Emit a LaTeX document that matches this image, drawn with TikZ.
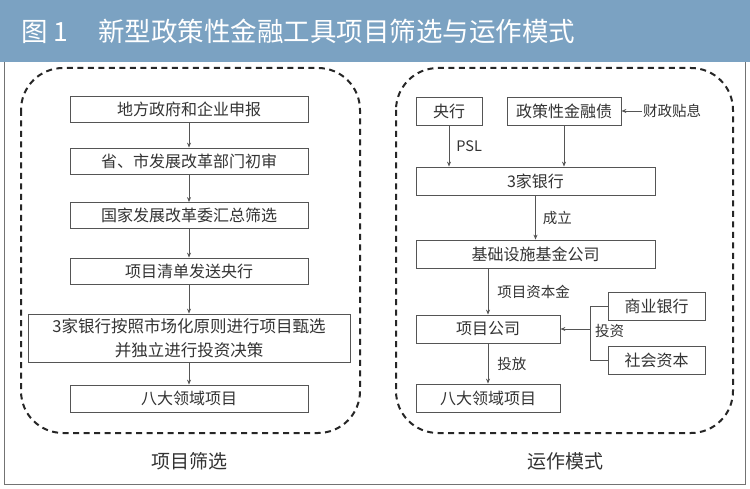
\documentclass[tikz,border=0pt]{standalone}
\usepackage{fontspec}
\setmainfont{Noto Sans CJK SC}
\usetikzlibrary{arrows.meta}
\definecolor{titleblue}{HTML}{7BA2C2}
\definecolor{linegray}{HTML}{555555}
\tikzset{
  bx/.style={draw=linegray, line width=0.8pt, fill=white, inner sep=0pt, font=\fontsize{16}{19}\selectfont, text=black!80},
  arr/.style={draw=linegray, line width=0.8pt, -{Stealth[length=5pt,width=4pt]}},
  lnk/.style={draw=linegray, line width=0.8pt},
  lbl/.style={font=\fontsize{14.5}{16}\selectfont, text=black!80, inner sep=1pt},
  dashbox/.style={draw=black!85, line width=2pt, dash pattern=on 6pt off 4.5pt, rounded corners=42pt},
}
\begin{document}
\begin{tikzpicture}[x=1pt,y=-1pt]
\useasboundingbox (0,0) rectangle (750,489);
\fill[white] (0,0) rectangle (750,489);
\fill[titleblue] (0,0) rectangle (750,62);
\node[anchor=west, text=white, font=\fontsize{26.5}{29}\selectfont, inner sep=0pt] (title) at (21,31) {图 1\hspace{30pt}新型政策性金融工具项目筛选与运作模式};
\draw[draw=black!55, line width=0.8pt] (4,62) -- (4,484) -- (745,484) -- (745,62);
\draw[dashbox] (21,68) rectangle (360,433);
\draw[dashbox] (396,68) rectangle (733,433);
% left column
\node[bx, minimum width=238pt, minimum height=26pt] (l1) at (189,109) {地方政府和企业申报};
\node[bx, minimum width=238pt, minimum height=26pt] (l2) at (189,161) {省、市发展改革部门初审};
\node[bx, minimum width=238pt, minimum height=26pt] (l3) at (189,215.5) {国家发展改革委汇总筛选};
\node[bx, minimum width=238pt, minimum height=26pt] (l4) at (189,271) {项目清单发送央行};
\node[bx, minimum width=322pt, minimum height=48pt, align=center, font=\fontsize{16.5}{24}\selectfont] (l5) at (189,338) {3家银行按照市场化原则进行项目甄选\\并独立进行投资决策};
\node[bx, minimum width=238pt, minimum height=27pt] (l6) at (189,398.5) {八大领域项目};
\draw[arr] (l1) -- (l2);
\draw[arr] (l2) -- (l3);
\draw[arr] (l3) -- (l4);
\draw[arr] (l4) -- (l5);
\draw[arr] (l5) -- (l6);
\node[font=\fontsize{19}{21}\selectfont, text=black!80] (cap1) at (189,461) {项目筛选};
% right column
\node[bx, minimum width=66pt, minimum height=28pt] (r1) at (449,111) {央行};
\node[bx, minimum width=114pt, minimum height=28pt] (r2) at (564,111) {政策性金融债};
\node[lbl, anchor=west] (czt) at (642,111) {财政贴息};
\draw[arr] (czt.west) -- (r2.east);
\node[bx, minimum width=239pt, minimum height=28pt] (r3) at (535.5,181) {3家银行};
\draw[arr] (r1.south) -- (r1.south |- r3.north) node[lbl, midway, right=6pt] (psl) {PSL};
\draw[arr] (r2.south) -- (r2.south |- r3.north);
\node[bx, minimum width=239pt, minimum height=28pt] (r4) at (535.5,254) {基础设施基金公司};
\draw[arr] (r3.south) -- (r4.north) node[lbl, midway, right=6pt] (cl) {成立};
\node[bx, minimum width=144pt, minimum height=28pt] (r5) at (488,329) {项目公司};
\draw[arr] (r5.north |- r4.south) -- (r5.north) node[lbl, midway, right=8pt] (xmzbj) {项目资本金};
\node[bx, minimum width=144pt, minimum height=28pt] (r6) at (488,398) {八大领域项目};
\draw[arr] (r5.south) -- (r6.north) node[lbl, midway, right=8pt] (tf) {投放};
\node[bx, minimum width=97pt, minimum height=28pt] (r7) at (656.5,306) {商业银行};
\node[bx, minimum width=97pt, minimum height=28pt] (r8) at (656.5,360) {社会资本};
\coordinate (bk) at (590,329);
\draw[lnk] (r7.west) -- (590,306) -- (590,360) -- (r8.west);
\draw[arr] (bk) -- (r5.east);
\node[lbl, anchor=west] (tz) at (594,331) {投资};
\node[font=\fontsize{19}{21}\selectfont, text=black!80] (cap2) at (565,461) {运作模式};
\end{tikzpicture}
\end{document}
